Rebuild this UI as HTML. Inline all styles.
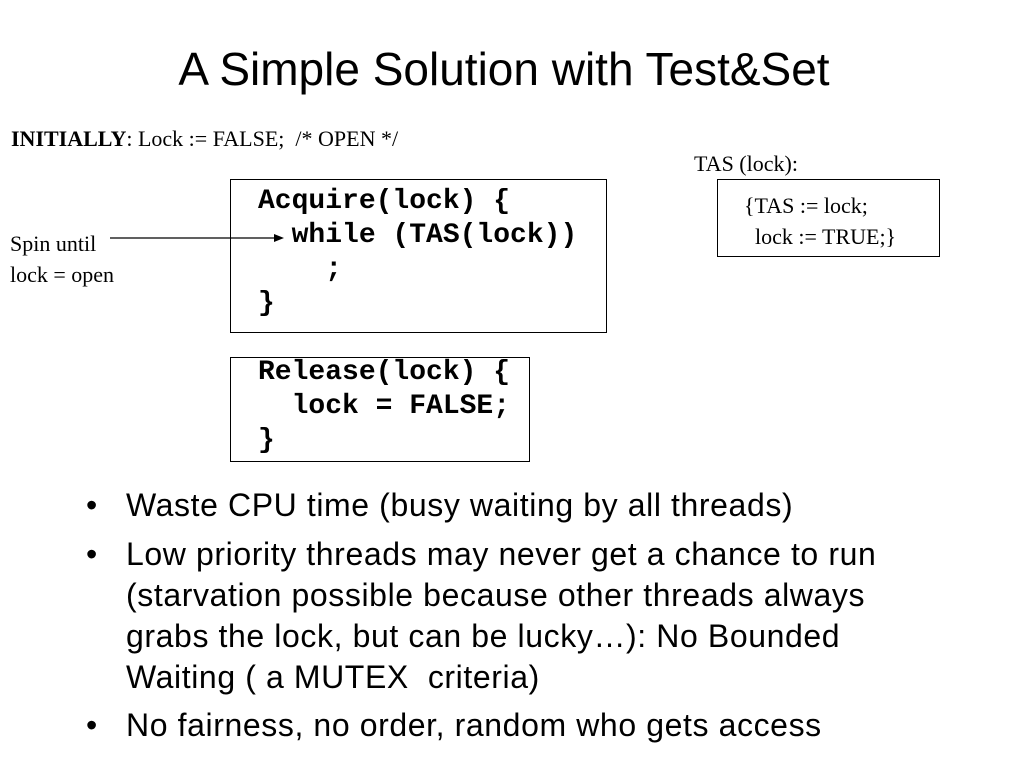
<!DOCTYPE html>
<html><head><meta charset="utf-8"><style>
body{margin:0;width:1024px;height:768px;background:#fff;position:relative;overflow:hidden;font-family:"Liberation Sans",sans-serif;color:#000}
.a{position:absolute;white-space:pre}
.s{font-family:"Liberation Serif",serif;font-size:22px}
.m{font-family:"Liberation Mono",monospace;font-weight:bold;font-size:28px;line-height:34px}
.box{position:absolute;border:1.5px solid #000}
.b{font-size:32px;line-height:41px;letter-spacing:0.6px}
</style></head><body>
<div class="a" style="left:0;width:1008px;text-align:center;top:42px;font-size:46px">A Simple Solution with Test&amp;Set</div>
<div class="a s" style="left:11px;top:126px"><b>INITIALLY</b>: Lock := FALSE;  /* OPEN */</div>
<div class="a s" style="left:694px;top:151px">TAS (lock):</div>
<div class="box" style="left:717px;top:179px;width:221px;height:76px"></div>
<div class="a s" style="left:744px;top:190px;line-height:31px">{TAS := lock;
  lock := TRUE;}</div>
<div class="box" style="left:230px;top:179px;width:375px;height:152px"></div>
<div class="a m" style="left:258px;top:185px">Acquire(lock) {
  while (TAS(lock))
    ;
}</div>
<div class="box" style="left:230px;top:357px;width:298px;height:103px"></div>
<div class="a m" style="left:258px;top:356px">Release(lock) {
  lock = FALSE;
}</div>
<div class="a s" style="left:10px;top:228px;line-height:31px">Spin until
lock = open</div>
<svg class="a" style="left:0;top:0" width="1024" height="768"><line x1="110" y1="238" x2="278" y2="238" stroke="#000" stroke-width="1.2"/><polygon points="284,238 274,234 274,242" fill="#000"/></svg>
<div class="a b" style="left:86px;top:485px">•</div>
<div class="a b" style="left:126px;top:485px">Waste CPU time (busy waiting by all threads)</div>
<div class="a b" style="left:86px;top:534px">•</div>
<div class="a b" style="left:126px;top:534px">Low priority threads may never get a chance to run
(starvation possible because other threads always
grabs the lock, but can be lucky…): No Bounded
Waiting ( a MUTEX  criteria)</div>
<div class="a b" style="left:86px;top:705px">•</div>
<div class="a b" style="left:126px;top:705px">No fairness, no order, random who gets access</div>
</body></html>
